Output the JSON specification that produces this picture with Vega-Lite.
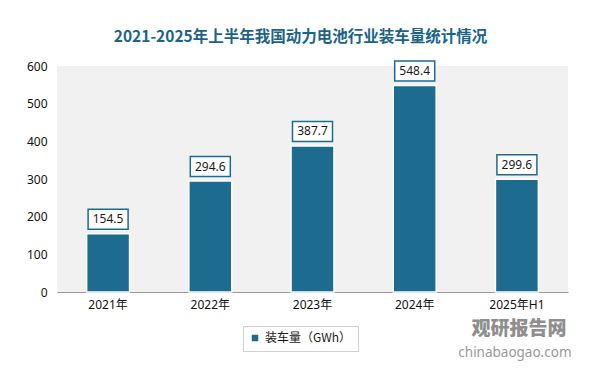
{
  "$schema": "https://vega.github.io/schema/vega-lite/v6.json",
  "width": 511,
  "height": 226,
  "autosize": {"type": "none"},
  "padding": {"left": 57, "top": 66, "right": 32, "bottom": 82},
  "background": "#ffffff",
  "title": {
    "text": "2021-2025年上半年我国动力电池行业装车量统计情况",
    "font": "Noto Sans CJK SC",
    "fontSize": 15.5,
    "fontWeight": "bold",
    "color": "#1b6487",
    "anchor": "middle",
    "dx": -12,
    "offset": 12
  },
  "config": {
    "view": {"fill": "#f1f1f1", "stroke": null}
  },
  "data": {
    "values": [
      {"year": "2021年", "value": 154.5, "series": "装车量（GWh）"},
      {"year": "2022年", "value": 294.6, "series": "装车量（GWh）"},
      {"year": "2023年", "value": 387.7, "series": "装车量（GWh）"},
      {"year": "2024年", "value": 548.4, "series": "装车量（GWh）"},
      {"year": "2025年H1", "value": 299.6, "series": "装车量（GWh）"}
    ]
  },
  "encoding": {
    "x": {
      "field": "year",
      "type": "nominal",
      "sort": null,
      "scale": {"paddingInner": 0.58, "paddingOuter": 0.29},
      "axis": {
        "title": null,
        "labelAngle": 0,
        "ticks": false,
        "domainColor": "#9a9a9a",
        "domainWidth": 1,
        "labelFontSize": 12,
        "labelFont": "Noto Sans, Noto Sans CJK SC",
        "labelColor": "#111111",
        "labelPadding": 7
      }
    },
    "y": {
      "field": "value",
      "type": "quantitative",
      "scale": {"domain": [0, 600]},
      "axis": {
        "title": null,
        "domain": false,
        "ticks": false,
        "grid": false,
        "values": [0, 100, 200, 300, 400, 500, 600],
        "labelPadding": 10,
        "labelFontSize": 12,
        "labelFont": "Noto Sans",
        "labelColor": "#111111"
      }
    }
  },
  "layer": [
    {
      "mark": {"type": "bar", "stroke": "#ffffff", "strokeWidth": 1.5},
      "encoding": {
        "color": {
          "field": "series",
          "type": "nominal",
          "scale": {"range": ["#1d6b8f"]},
          "legend": {
            "title": null,
            "orient": "none",
            "legendX": 186,
            "legendY": 260,
            "strokeColor": "#d0d0d0",
            "padding": 6,
            "symbolType": "square",
            "symbolSize": 64,
            "labelFontSize": 12,
            "labelFont": "Noto Sans CJK SC",
            "labelColor": "#1a1a1a"
          }
        }
      }
    },
    {
      "mark": {
        "type": "point",
        "shape": "M-1,-0.5H1V0.5H-1Z",
        "size": 1600,
        "filled": true,
        "fill": "#ffffff",
        "stroke": "#1d6b8f",
        "strokeWidth": 1.5,
        "opacity": 1,
        "yOffset": -14.5
      }
    },
    {
      "mark": {
        "type": "text",
        "yOffset": -14.5,
        "fontSize": 12,
        "font": "Noto Sans",
        "color": "#1a1a1a",
        "baseline": "middle"
      },
      "encoding": {
        "text": {"field": "value", "type": "quantitative", "format": ".1f"}
      }
    },
    {
      "transform": [{"filter": "datum.year == '2025年H1'"}],
      "mark": {
        "type": "text",
        "fontSize": 19,
        "fontWeight": 900,
        "font": "Noto Sans CJK SC",
        "color": "#8e8e8e",
        "baseline": "middle",
        "dx": 2,
        "clip": false
      },
      "encoding": {
        "y": {"datum": -97},
        "text": {"value": "观研报告网"}
      }
    },
    {
      "transform": [{"filter": "datum.year == '2025年H1'"}],
      "mark": {
        "type": "text",
        "fontSize": 13.5,
        "font": "Noto Sans",
        "color": "#9a9a9a",
        "baseline": "middle",
        "dx": -2,
        "clip": false
      },
      "encoding": {
        "y": {"datum": -162},
        "text": {"value": "chinabaogao.com"}
      }
    }
  ]
}
